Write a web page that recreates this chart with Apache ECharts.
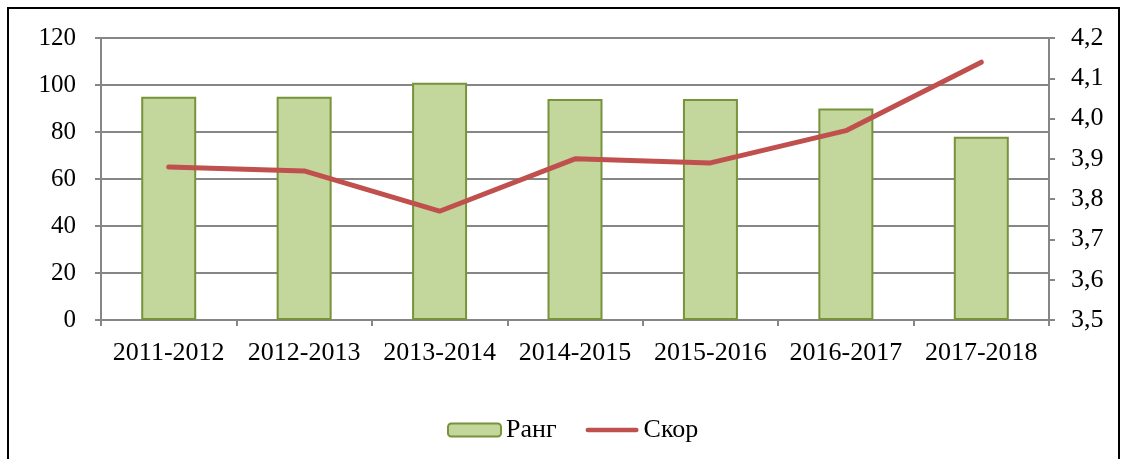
<!DOCTYPE html>
<html>
<head>
<meta charset="utf-8">
<script src="https://cdn.jsdelivr.net/npm/echarts@6/dist/echarts.min.js"></script>
<style>
  html, body { margin: 0; padding: 0; background: #fff; }
  #frame {
    position: absolute; left: 7px; top: 7px; width: 1113px; height: 470px;
    border: 2px solid #000; box-sizing: border-box;
  }
  #chart { position: absolute; left: 0; top: 0; width: 1126px; height: 459px; }
</style>
</head>
<body>
<div id="frame"></div>
<div id="chart"></div>
<script>
// учебные годы
const years = ['2011-2012', '2012-2013', '2013-2014', '2014-2015', '2015-2016', '2016-2017', '2017-2018']
// ранг (левая ось)
const rank = [95, 95, 101, 94, 94, 90, 78]
// скор (правая ось)
const score = [3.88, 3.87, 3.77, 3.90, 3.89, 3.97, 4.14]

const chart = echarts.init(document.getElementById('chart'))
const font = 'Liberation Serif, Times New Roman, serif'
const axisGray = '#868686'

let option = {
  animation: false,
  textStyle: { fontFamily: font },
  grid: { left: 101, right: 77, top: 38, bottom: 139 },
  legend: {
    top: 412,
    left: 442,
    itemWidth: 53,
    itemHeight: 13,
    itemGap: 29,
    textStyle: { fontFamily: font, fontSize: 26, color: '#000' },
    data: [
      { name: 'Ранг' },
      { name: 'Скор', icon: 'path://M2,0 L54,0 A2.5,2.5 0 0 1 54,5 L2,5 A2.5,2.5 0 0 1 2,0 Z' }
    ]
  },
  xAxis: {
    type: 'category',
    data: years,
    boundaryGap: true,
    axisLine: { lineStyle: { color: axisGray, width: 2 } },
    axisTick: { show: true, length: 6, lineStyle: { color: axisGray, width: 2 } },
    axisLabel: { color: '#000', fontSize: 26, margin: 20, interval: 0, fontFamily: font }
  },
  yAxis: [
    {
      type: 'value',
      min: 0,
      max: 120,
      interval: 20,
      axisLine: { show: true, lineStyle: { color: axisGray, width: 2 } },
      axisTick: { show: true, length: 6, lineStyle: { color: axisGray, width: 2 } },
      splitLine: { show: true, lineStyle: { color: axisGray, width: 2 } },
      axisLabel: { color: '#000', fontSize: 25, margin: 25, fontFamily: font }
    },
    {
      type: 'value',
      min: 3.5,
      max: 4.2,
      interval: 0.1,
      position: 'right',
      axisLine: { show: true, lineStyle: { color: axisGray, width: 2 } },
      axisTick: { show: true, length: 6, lineStyle: { color: axisGray, width: 2 } },
      splitLine: { show: false },
      axisLabel: {
        color: '#000', fontSize: 26, margin: 22, fontFamily: font,
        formatter: v => v.toFixed(1).replace('.', ',')
      }
    }
  ],
  series: [
    {
      name: 'Ранг',
      type: 'bar',
      yAxisIndex: 0,
      barWidth: 55,
      data: rank,
      itemStyle: { color: '#c3d69b', borderColor: '#77933c', borderWidth: 2 }
    },
    {
      name: 'Скор',
      type: 'line',
      yAxisIndex: 1,
      data: score,
      symbol: 'none',
      lineStyle: { color: '#c0504d', width: 5, cap: 'round' },
      itemStyle: { color: '#c0504d' }
    }
  ]
}
chart.setOption(option)
</script>
</body>
</html>
